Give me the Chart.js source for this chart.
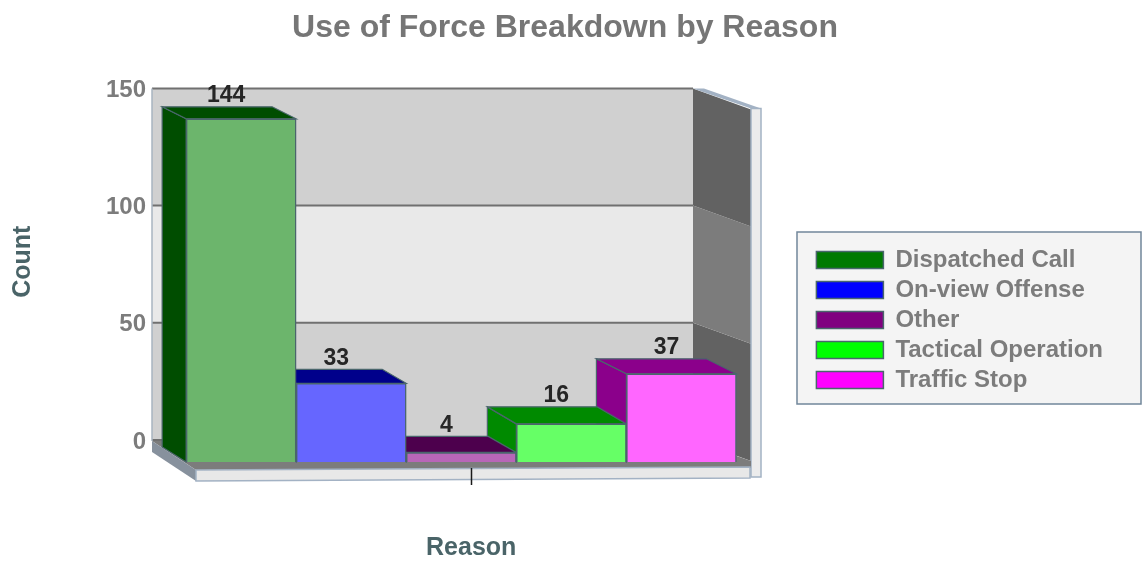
<!DOCTYPE html>
<html>
<head>
<meta charset="utf-8">
<style>
  html, body { margin: 0; padding: 0; background: #fff; }
  canvas { display: block; }
</style>
<script src="https://cdn.jsdelivr.net/npm/chart.js@4"></script>
</head>
<body>
<canvas id="mychart" width="1143" height="566"></canvas>
<script>
const reasons = ['Dispatched Call', 'On-view Offense', 'Other', 'Tactical Operation', 'Traffic Stop'];
const counts = [144, 33, 4, 16, 37];
const yTicks = [0, 50, 100, 150];

const legendColors = ['#007a00', '#0000ff', '#800080', '#00ff00', '#ff00ff'];
const frontColors = ['#6cb56c', '#6666ff', '#b866b8', '#66ff66', '#ff66ff'];
const darkColors = ['#004d00', '#00008b', '#4d004d', '#008a00', '#8b008b'];
const depthX = [24, 24, 28, 29, 30];
const depthY = [12, 14, 16, 17, 15];
const edge = '#4a666c';
const font = 'Arial, "Liberation Sans", sans-serif';

function poly(c, pts, fill, stroke, lw) {
  c.beginPath();
  pts.forEach((p, i) => i ? c.lineTo(p[0], p[1]) : c.moveTo(p[0], p[1]));
  c.closePath();
  c.fillStyle = fill;
  c.fill();
  if (stroke) {
    c.strokeStyle = stroke;
    c.lineWidth = lw || 1;
    c.stroke();
  }
}

const box3d = {
  id: 'box3d',
  afterLayout(chart) {
    chart.titleBlock.right = chart.width - 13;
    chart.legend.top += 37;
    chart.legend.bottom += 37;
  },
  beforeDraw(chart) {
    const c = chart.ctx;
    c.save();
    c.fillStyle = '#f4f4f4';
    c.fillRect(797, 232, 344, 172);
    c.strokeStyle = '#71879b';
    c.lineWidth = 1.5;
    c.strokeRect(797, 232, 344, 172);
    c.restore();
  },
  beforeDatasetsDraw(chart) {
    const c = chart.ctx, y = chart.scales.y;
    const left = chart.chartArea.left, backR = 693, frontR = 751;
    const lift = 21;
    c.save();
    // walls, one band per pair of ticks
    for (let i = 0; i < yTicks.length - 1; i++) {
      const lo = y.getPixelForValue(yTicks[i]), hi = y.getPixelForValue(yTicks[i + 1]);
      poly(c, [[left, hi], [backR, hi], [backR, lo], [left, lo]], i % 2 ? '#e9e9e9' : '#d0d0d0');
      poly(c, [[backR, hi], [frontR, hi + lift], [frontR, lo + lift], [backR, lo]], i % 2 ? '#7c7c7c' : '#626262');
    }
    // outer right panel
    const top = y.getPixelForValue(150);
    poly(c, [[frontR, top + 20], [761, top + 20], [761, 477], [frontR, 477]], '#ececec', '#a3b2c4', 1.5);
    poly(c, [[backR, top], [704, top], [761, top + 20], [frontR, top + 20]], '#a3b2c4');
    // floor
    const zero = y.getPixelForValue(0);
    poly(c, [[left, zero + 1], [backR, zero + 1], [frontR, zero + lift], [frontR, 468], [196, 470]], '#7c7c7c');
    poly(c, [[left, zero + 1], [left, zero + 12], [196, 481], [196, 470]], '#87919d');
    poly(c, [[196, 470], [frontR - 1, 467], [frontR - 1, 478], [196, 481]], '#e8e8e8', '#a3b2c4', 1.5);
    // wall lines
    c.strokeStyle = '#707070';
    c.lineWidth = 2;
    yTicks.forEach(v => {
      const p = y.getPixelForValue(v);
      c.beginPath();
      c.moveTo(left, p);
      c.lineTo(backR, p);
      c.stroke();
    });
    c.strokeStyle = '#a9b4c0';
    c.lineWidth = 1.5;
    c.beginPath();
    c.moveTo(left, top);
    c.lineTo(left, zero + 1);
    c.stroke();
    // side and top faces, right to left so the left top sits over the next side
    for (let i = reasons.length - 1; i >= 0; i--) {
      const bar = chart.getDatasetMeta(i).data[0];
      const l = bar.x - bar.width / 2, r = bar.x + bar.width / 2;
      const dx = depthX[i], dy = depthY[i];
      poly(c, [[l, bar.y], [l - dx, bar.y - dy], [l - dx, bar.base - 15], [l, bar.base]], darkColors[i], edge, 1.2);
      poly(c, [[l, bar.y], [l - dx, bar.y - dy], [r - dx, bar.y - dy], [r, bar.y]], darkColors[i], edge, 1.2);
    }
    c.restore();
  },
  afterDatasetsDraw(chart) {
    const c = chart.ctx;
    c.save();
    c.font = 'bold 23px ' + font;
    c.fillStyle = '#262626';
    c.textAlign = 'center';
    c.textBaseline = 'middle';
    counts.forEach((v, i) => {
      const bar = chart.getDatasetMeta(i).data[0];
      c.fillText(v, bar.x - 15, bar.y - depthY[i] - 11);
    });
    c.restore();
  }
};

new Chart(document.getElementById('mychart'), {
  type: 'bar',
  plugins: [box3d],
  data: {
    datasets: reasons.map((name, i) => ({
      label: name,
      data: [{ x: i + 1, y: counts[i] }],
      backgroundColor: frontColors[i],
      borderColor: edge,
      borderWidth: 1.5,
      barThickness: 110,
      grouped: false,
      yAxisID: 'y1'
    }))
  },
  options: {
    responsive: false,
    animation: false,
    layout: { padding: { right: 30 } },
    plugins: {
      title: {
        display: true,
        text: 'Use of Force Breakdown by Reason',
        color: '#767676',
        font: { family: font, size: 32, weight: 'bold', lineHeight: 1.2 },
        padding: { top: 9, bottom: 8 }
      },
      legend: {
        position: 'right',
        maxWidth: 400,
        labels: {
          boxWidth: 67,
          boxHeight: 17,
          padding: 6,
          color: '#7c7c7c',
          font: { family: font, size: 24, weight: 'bold' },
          generateLabels: ch => ch.data.datasets.map((d, i) => ({
            text: d.label,
            fillStyle: legendColors[i],
            strokeStyle: edge,
            lineWidth: 1.5,
            fontColor: '#7c7c7c',
            datasetIndex: i
          }))
        }
      },
      tooltip: { enabled: false }
    },
    scales: {
      x: {
        type: 'linear',
        offset: false,
        min: 0.19,
        max: 5.99,
        afterBuildTicks: s => { s.ticks = [{ value: (s.min + s.max) / 2 }]; },
        afterFit: s => { s.height = 98; },
        ticks: { callback: () => '', autoSkip: false },
        grid: { offset: false, drawOnChartArea: false, tickLength: 17, tickColor: '#1a1a1a', tickWidth: 1.5, z: 1 },
        border: { display: false },
        title: {
          display: true,
          text: 'Reason',
          color: '#4a6468',
          font: { family: font, size: 25, weight: 'bold' },
          padding: { top: 0, bottom: 3 }
        }
      },
      y: {
        min: -11.97,
        max: 164.1,
        afterBuildTicks: s => { s.ticks = yTicks.map(v => ({ value: v })); },
        afterFit: s => { s.width = 152; },
        ticks: {
          color: '#7c7c7c',
          padding: 6,
          labelOffset: 2,
          font: { family: font, size: 24, weight: 'bold' }
        },
        grid: { display: false, drawTicks: false },
        border: { display: false },
        title: {
          display: true,
          text: 'Count',
          color: '#4a6468',
          font: { family: font, size: 25, weight: 'bold' },
          padding: { top: 8, bottom: 0 }
        }
      },
      y1: {
        position: 'right',
        min: -2.52,
        max: 170.6,
        afterFit: s => { s.width = 20; },
        ticks: { display: false },
        grid: { display: false },
        border: { display: false }
      }
    }
  }
});
</script>
</body>
</html>
